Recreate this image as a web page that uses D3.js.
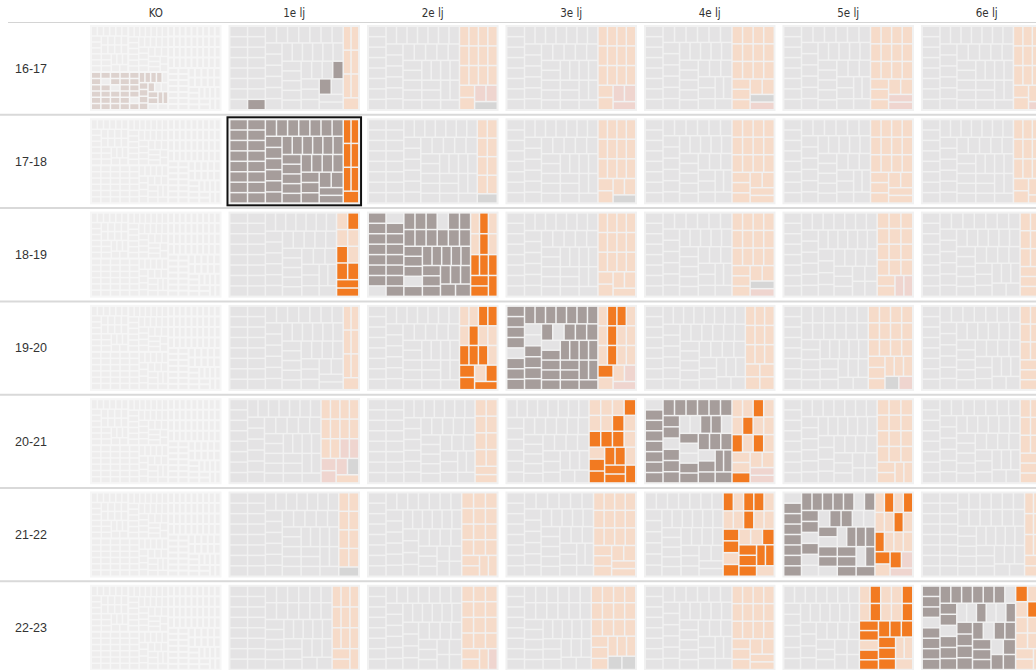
<!DOCTYPE html>
<html><head><meta charset="utf-8">
<script src="https://cdn.jsdelivr.net/npm/d3@7"></script>
<style>body{margin:0;background:#fff;}svg{display:block}</style>
</head><body><svg id="chart" width="1036" height="670"></svg>
<script>
const years = ["16-17","17-18","18-19","19-20","20-21","21-22","22-23"];
const grades = ["KO","1e lj","2e lj","3e lj","4e lj","5e lj","6e lj"];

// KO column: nested class blocks (students per class)
const koTop = [28, 30];
const koBottom = [48];
const koRight = [72];
// KO marks per row, one string per block (top1, top2, bottom, right); x = in cohort
const koMarks = [
  ["", "", "xxxxxxx.xxxxxx.xxxxxxxxxxxxx.xxxxx.xxxxx..xx.xx.", ""],
  ["", "", "", ""], ["", "", "", ""], ["", "", "", ""],
  ["", "", "", ""], ["", "", "", ""], ["", "", "", ""]
];

// students per cell: gray group and orange group (rows = years, cols = grades)
const grayN = [
  [0, 51, 41, 41, 39, 39, 41],
  [0, 51, 49, 41, 39, 39, 41],
  [0, 48, 46, 41, 39, 42, 44],
  [0, 51, 41, 41, 45, 38, 44],
  [0, 41, 48, 37, 39, 42, 44],
  [0, 49, 42, 39, 35, 41, 46],
  [0, 46, 42, 38, 39, 34, 42]
];
const orangeN = [
  [0, 7, 17, 17, 19, 19, 17],
  [0, 7, 9, 17, 19, 19, 17],
  [0, 10, 12, 17, 19, 16, 14],
  [0, 7, 17, 17, 13, 20, 14],
  [0, 17, 10, 21, 19, 16, 14],
  [0, 9, 16, 19, 23, 17, 12],
  [0, 12, 16, 20, 19, 24, 16]
];
// marks: "." base, "x" highlighted, "p" pink, "g" grey
const grayMarks = [
  ["", "...............x...........................x...x", "", "", "", "", ""],
  ["", "xxxxxxxxxxxxxxxxxxxxxxxxxxxxxxxxxxxxxxxxxxxxxxxxxxx", "", "", "", "", ""],
  ["", "", "xxxxxxx..xxxxxxxxxx.xxxxxxxxxxx.xxxxxxxxxxxxxx", "", "", "", ""],
  ["", "", "", "xxxx.xxxxxxxxxx..xxxxx.xxx.xxxxxxxxxxxxxx", "", "", ""],
  ["", "", "", "", ".xxxxxxxxxxxxxxx.xxx..xx.x..xxxxx.xxxxx", "", ""],
  ["", "", "", "", "", ".xxxxxxxxxxxx.xxx.x...xx..x.xx..xxxxxx.xx", ""],
  ["", "", "", "", "", "", "xxx.xxxxxxxxxx.xx.xxx..x..xxxxxx.xxxxx.xxx"]
];
const orangeMarks = [
  ["", "", "..............ppg", "..............ppp", ".................gp", ".................pp", "...............pp"],
  ["", "xxxxxxx", "........g", "................g", "", "", ""],
  ["", ".x..x.xxxx", ".x..x.xxxxxx", "", ".................gp", "..............pp", ""],
  ["", "", "..xx.x..xxx.xx.xx", ".xx..x...x..x..pp", "", "..................gp", "..............g"],
  ["", "..........pppppg", "", "...x..x.xxx..xxxx.xxx", "..x..x..x.x...x..pp", "", "............g"],
  ["", "........g", "", "", "x.xx...x..xx.x..xxxxxx.", ".x.x..x.x...x.xpp", ""],
  ["", "", "...............p", "..................gg", "", ".x..x.x..xxx.xxxxxxxx...", "x...x..........."]
];

const palette = {
  gray:   {".": "#e4e3e4", "x": "#a69d9b", "g": "#d6d6d6", "p": "#efd6d0"},
  orange: {".": "#f6dbc9", "x": "#f27a21", "g": "#d6d6d6", "p": "#efd5cf"},
  ko:     {".": "#eeeded", "x": "#ddd2ce"}
};

const svg = d3.select("#chart");
const x = d3.scaleBand().domain(grades).range([90, 1052.5]).paddingInner(0.05).paddingOuter(0);
const y = d3.scaleBand().domain(years).range([25, 670.8]).paddingInner(0.078).paddingOuter(0);
const W = x.bandwidth(), H = y.bandwidth();

// header
svg.append("line").attr("x1", 8).attr("x2", 1036).attr("y1", 22.5).attr("y2", 22.5)
  .attr("stroke", "#d4d4d4").attr("stroke-width", 1);
svg.selectAll("text.col").data(grades).join("text").attr("class", "col")
  .attr("x", d => x(d) + W / 2).attr("y", 17).attr("text-anchor", "middle")
  .attr("font-family", "'Liberation Sans Narrow','Arial Narrow','DejaVu Sans Condensed',sans-serif")
  .attr("font-size", 11.5).attr("fill", "#333").text(d => d);

// row separators
svg.selectAll("line.sep").data(years.slice(0, -1)).join("line").attr("class", "sep")
  .attr("x1", 0).attr("x2", 1036)
  .attr("y1", d => y(d) + H + 3.8).attr("y2", d => y(d) + H + 3.8)
  .attr("stroke", "#d9d9d9").attr("stroke-width", 2);
svg.selectAll("text.row").data(years).join("text").attr("class", "row")
  .attr("x", 15).attr("y", d => y(d) + H / 2 + 4.5)
  .attr("font-family", "'Liberation Sans',Arial,sans-serif").attr("font-size", 12.5)
  .attr("fill", "#333").text(d => d);

function leaves(n, marks, kind) {
  return d3.range(n).map(i => ({kind, m: marks[i] || ".", value: 1}));
}

function tile(node, x0, y0, x1, y1) {
  (node.data.tile === "slice" ? d3.treemapSlice : d3.treemapSquarify)(node, x0, y0, x1, y1);
}

function buildCell(r, c) {
  let data;
  if (c === 0) {
    const km = koMarks[r];
    data = {children: [
      {tile: "slice", children: [
        {children: koTop.map((n, i) => ({children: leaves(n, km[i], "ko")}))},
        {children: koBottom.map(n => ({children: leaves(n, km[2], "ko")}))}
      ]},
      {children: koRight.map(n => ({children: leaves(n, km[3], "ko")}))}
    ]};
  } else {
    data = {children: [
      {children: leaves(grayN[r][c], grayMarks[r][c], "gray")},
      {children: leaves(orangeN[r][c], orangeMarks[r][c], "orange")}
    ]};
  }
  const root = d3.hierarchy(data).sum(d => d.value || 0);
  d3.treemap().tile(tile).size([W, H])
    .paddingOuter(d => d.depth === 0 ? 2 : 0)
    .paddingInner(d => (c === 0 && d.depth < 3) ? 2 : 1.5)(root);
  return root;
}

years.forEach((yr, r) => {
  grades.forEach((gr, c) => {
    const g = svg.append("g").attr("transform", `translate(${x(gr)},${y(yr)})`);
    g.append("rect").attr("width", W).attr("height", H).attr("fill", c === 0 ? "#f6f6f6" : "#f1f1f1");
    const root = buildCell(r, c);
    g.selectAll("rect.t").data(root.leaves()).join("rect").attr("class", "t")
      .attr("x", d => d.x0).attr("y", d => d.y0)
      .attr("width", d => Math.max(0, d.x1 - d.x0)).attr("height", d => Math.max(0, d.y1 - d.y0))
      .attr("fill", d => palette[d.data.kind][d.data.m] || palette[d.data.kind]["."]);
    if (r === 1 && c === 1) {
      g.append("rect").attr("x", -1).attr("y", -1).attr("width", W + 2).attr("height", H + 2)
        .attr("fill", "none").attr("stroke", "#111").attr("stroke-width", 2);
    }
  });
});
</script></body></html>
